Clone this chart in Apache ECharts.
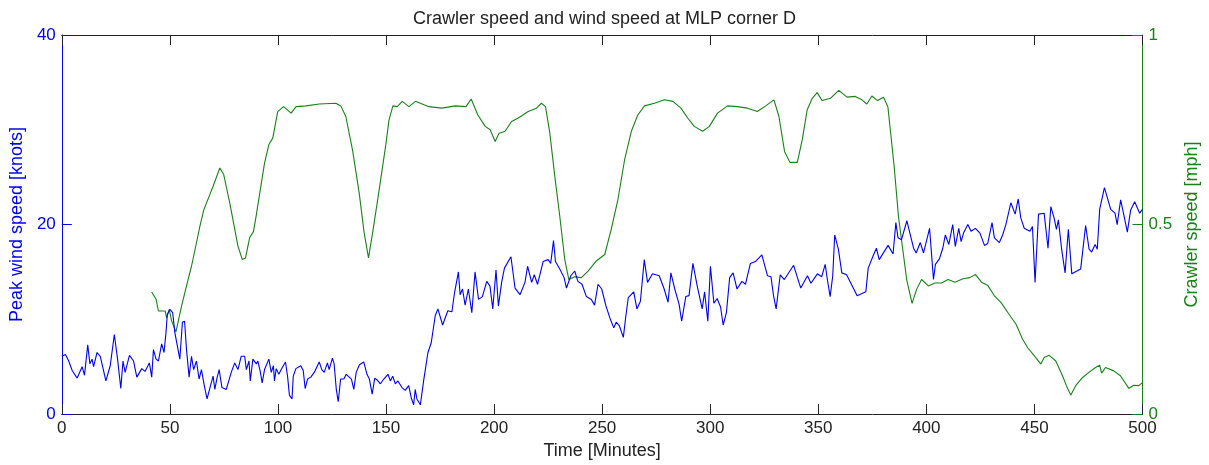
<!DOCTYPE html>
<html>
<head>
<meta charset="utf-8">
<script src="https://cdn.jsdelivr.net/npm/echarts@6/dist/echarts.min.js"></script>
<style>
html,body{margin:0;padding:0;background:#fff;}
#chart{width:1209px;height:465px;}
</style>
</head>
<body>
<div id="chart"></div>
<script>
// ---- Data ----
var windTime = [0,1.7,3.2,4.8,7.1,9.4,10.5,12,13,14,14.7,16.3,17.8,20.4,22.4,24.3,25.8,27.3,28.3,29.3,31.3,33.2,34.7,37,38.5,40.5,41.6,42.4,43.6,44.7,46.2,47.3,48.2,48.8,50,51.3,52.3,54.6,55.8,56.8,57.7,58.9,60,61,62.3,63.5,64.6,66.1,67.2,68.8,70,70.8,71.8,72.8,74.1,76.1,78.4,80,81.5,83,
84.6,85.4,86.6,87.2,88.4,90,90.7,91.8,92.7,93.8,95.8,96.9,97.9,98.4,99.2,100.4,101.5,102.2,103.5,104.5,105.3,106.5,107.1,108.3,110.6,111.7,112.6,113.7,115.2,116.8,119.1,120.3,121.4,122.9,123.7,125.2,126,127,127.9,129,130.5,131.6,132.5,134,135.1,136.2,137.7,139.7,141.2,142.3,143.6,144.8,145.9,147.4,149,150.9,152,153.1,154.3,155.5,157.4,158.9,160.5,161.7,162.8,163.5,164.3,165.9,
167.4,169.4,170.9,172.8,174,176.2,178.6,180.5,181.7,183.5,184.3,185.4,186.6,188.1,189.7,191.2,192.8,194.6,196.6,198.1,199.4,200.9,202,203.5,204.8,207.8,209.7,212,214.3,215.5,217.4,218.6,220.1,222.7,225,226.2,227.5,228.4,230.4,232.4,233.5,235.5,237.3,238.8,240.7,242.7,245,246.5,248.1,
249.8,251.8,253.8,255.4,256.5,258,259.8,261,262.1,264.6,266.1,267.7,269.5,271,273.3,276.4,278.7,280.5,281.8,283.6,285.6,286.8,288.7,290.2,292,294,296.3,297.4,298.9,300.1,301.7,303.2,304.8,306,307.5,309,310.6,312.4,314.7,316.3,318.6,320.9,323.9,326.5,328.1,329.3,330.5,
332.4,334.3,338.6,341.9,345,346.6,349.6,351.6,353.2,354.2,355.5,356.7,357.6,359.3,360.9,363.1,368,372,373.1,375.4,376.9,378.2,382.3,384.6,385.9,386.9,388.5,391,394.1,395.3,397.2,398.7,401.5,403.3,404.2,406.1,407.6,408.8,410.4,412.2,413.4,
415,416.1,417.2,419.2,420.7,422.7,424.8,426.9,428.4,430.4,431.5,433.8,435.3,436.8,437.6,439.1,441.1,442.5,443.7,445.3,447.9,449.1,450.3,451.9,454.5,456.3,457.6,459.1,460.2,461.1,462.6,464.2,465.7,467.3,471.4,473.7,475.3,476.5,478.1,479.1,480.2,482.4,485.3,487.3,488.3,489.9,491.4,493,494.5,496.4,498.7,500];
var windSpeed = [6.1,6.3,5.6,4.6,3.8,5.0,4.1,7.3,5.3,5.8,5.0,6.5,6.1,3.5,5.1,8.4,5.8,2.7,5.6,4.4,6.2,5.6,3.9,4.8,4.5,5.4,3.9,6.8,5.8,5.6,7.4,6.5,8.6,10.5,11.05,10.7,8.6,5.8,9.7,9.8,6.8,3.9,6.1,4.7,5.6,3.7,4.7,2.8,1.6,3.0,4.0,2.6,3.8,4.7,2.8,2.6,4.4,5.4,4.7,6.1,
6.1,4.7,5.6,3.5,5.8,5.3,5.6,4.5,3.3,4.7,5.8,4.4,5.1,3.5,4.8,4.2,4.7,4.6,5.5,3.9,2.0,1.6,4.0,4.8,5.1,4.6,2.7,3.7,3.9,4.4,5.5,4.7,4.4,5.4,4.7,5.9,5.3,2.6,1.3,3.7,3.7,4.2,4.4,3.7,2.6,4.4,5.2,5.5,4.2,3.7,2.1,3.8,3.6,3.2,3.7,4.2,3.5,4.0,3.2,3.5,2.8,2.5,3.0,1.7,0.98,2.6,1.6,0.98,
3.5,6.5,7.5,10.4,11.1,9.4,10.9,10.8,12.8,15.0,12.6,13.2,11.5,13.2,10.7,15.0,12.1,12.4,14.0,13.5,11.1,15.2,11.4,13.9,15.4,16.6,13.3,12.6,13.9,15.6,13.9,14.7,13.7,16.1,16.3,15.9,18.3,16.1,15.3,14.4,13.3,14.6,15.1,14.0,13.7,12.4,12.1,11.5,13.7,
13.2,11.4,10.0,9.1,9.7,9.3,8.1,10.4,12.3,12.9,11.1,11.9,16.3,13.9,14.8,14.6,13.2,11.8,14.9,13.2,11.6,9.8,12.4,12.5,15.9,13.5,11.1,12.9,9.8,15.6,11.7,12.2,11.3,9.4,10.7,14.4,14.9,13.2,14.0,13.7,15.9,16.1,16.8,14.6,14.5,12.5,11.1,
14.7,14.2,15.7,13.3,14.6,13.8,14.8,14.5,15.8,14.2,12.4,14.6,18.9,17.4,14.9,14.7,12.5,12.9,15.4,16.7,17.5,16.3,17.8,16.9,20.2,18.6,18.4,20.4,17.5,17.0,18.1,17.0,19.6,14.2,15.8,16.4,17.5,18.9,17.9,20.0,17.7,
19.6,18.2,19.1,20.0,19.3,19.6,19.1,17.8,18.0,20.2,18.6,18.1,18.9,20.0,19.8,22.3,21.1,22.7,20.7,19.6,19.3,19.8,13.9,21.1,21.2,17.5,21.9,20.7,19.5,20.5,17.4,14.9,19.5,14.8,15.3,19.9,17.4,17.1,17.9,17.4,21.6,23.9,21.6,21.2,20.0,22.6,21.0,19.2,21.5,22.4,21.2,21.6];

var crawlerTime = [41.6,43.6,44.7,47.8,48.5,49.7,50.8,52.8,55.4,57.7,60,62.3,63.9,65.7,68.2,70,73.1,74.9,77.7,81.5,83.5,85,86.9,88.7,89.9,93.8,95.8,97.6,99.9,102.6,106.1,108.4,113,119.1,126.8,129.1,131.4,134.5,137.6,139.9,141.9,143.8,146.8,149.9,151.4,153.2,155.2,157.5,160.6,163.7,169.8,175.9,182,187,189.4,192.5,195.9,198.2,200.5,202.3,205.1,208.1,211.2,215.8,219.6,221.9,223.8,225.8,228.1,230.4,232.7,234.6,237.3,240.4,243.5,247.3,251.2,254.2,257.3,260.4,263.5,266.5,269.6,274.2,278.8,282.7,286.5,289.6,292.6,296.5,299.6,303.4,308,312.6,317.2,321.8,325.7,329.5,331.8,334.4,336.9,340.3,342.6,344.9,347.2,349.5,351.8,355.6,359.5,363.3,367.1,370.2,372.5,374.8,377.4,380.2,382.2,383.5,385.1,387.1,389.1,390.9,393.4,395.5,397.8,400.9,404,407,410.1,413.2,417,420.1,422.8,425.5,428.5,431.6,434.6,437.7,441.5,444.6,446.9,449.9,453,454.5,456.8,459.9,463,464.8,466.8,469.1,472.2,475.2,478.3,480.2,481.1,482.9,486.7,489.8,493.7,496,498.3,500];
var crawlerSpeed = [0.322,0.303,0.272,0.272,0.254,0.276,0.246,0.217,0.285,0.338,0.39,0.452,0.496,0.539,0.575,0.601,0.649,0.632,0.557,0.443,0.408,0.412,0.465,0.482,0.522,0.662,0.711,0.728,0.798,0.811,0.794,0.811,0.813,0.818,0.82,0.813,0.785,0.697,0.583,0.478,0.412,0.478,0.59,0.71,0.776,0.813,0.811,0.825,0.811,0.825,0.811,0.807,0.813,0.811,0.831,0.789,0.759,0.75,0.719,0.741,0.746,0.772,0.781,0.798,0.807,0.82,0.811,0.741,0.627,0.522,0.408,0.355,0.362,0.36,0.377,0.404,0.421,0.487,0.566,0.671,0.746,0.789,0.813,0.82,0.829,0.825,0.807,0.781,0.759,0.746,0.759,0.794,0.813,0.811,0.807,0.798,0.813,0.829,0.785,0.693,0.664,0.664,0.724,0.803,0.833,0.848,0.827,0.833,0.854,0.836,0.838,0.829,0.818,0.839,0.827,0.836,0.811,0.741,0.654,0.522,0.434,0.355,0.292,0.329,0.355,0.338,0.346,0.346,0.355,0.348,0.357,0.36,0.368,0.348,0.339,0.311,0.294,0.268,0.237,0.197,0.175,0.154,0.132,0.149,0.155,0.14,0.101,0.075,0.05,0.075,0.096,0.11,0.123,0.129,0.108,0.123,0.114,0.101,0.068,0.076,0.075,0.083];

var xTicks = [0,50,100,150,200,250,300,350,400,450,500];
var windTicks = [0,20,40];
var crawlerTicks = [0,0.5,1];

var titleText = 'Crawler speed and wind speed at MLP corner D';
var xName = 'Time [Minutes]';
var windName = 'Peak wind speed [knots]';
var crawlerName = 'Crawler speed [mph]';

// ---- Build series ----
function pairs(xs, ys){ var out=[]; for(var i=0;i<xs.length;i++){ out.push([xs[i], ys[i]]); } return out; }

var BLUE = '#0000ee';
var GREEN = '#1a801a';
var FONT = '"Liberation Sans", Arial, sans-serif';

var chart = echarts.init(document.getElementById('chart'), null, {renderer:'canvas'});
chart.setOption({
  animation:false,
  backgroundColor:'#ffffff',
  title:{text:titleText, left:'center', top:5,
    textStyle:{fontFamily:FONT, fontSize:18, fontWeight:'normal', color:'#222'}},
  grid:{left:61, right:62, top:35, height:380, containLabel:false},
  xAxis:[{
    type:'value', min:xTicks[0], max:xTicks[xTicks.length-1], interval:xTicks[1]-xTicks[0],
    position:'bottom',
    name:xName, nameLocation:'middle', nameGap:27,
    nameTextStyle:{fontFamily:FONT, fontSize:18, color:'#222'},
    axisLine:{show:true, onZero:false, lineStyle:{color:'#222', width:1}},
    axisTick:{show:true, inside:true, length:10, lineStyle:{color:'#222'}},
    axisLabel:{fontFamily:FONT, fontSize:17, color:'#222', margin:6},
    splitLine:{show:false}
  },{
    type:'value', min:xTicks[0], max:xTicks[xTicks.length-1], interval:xTicks[1]-xTicks[0],
    position:'top',
    axisLine:{show:true, onZero:false, lineStyle:{color:'#222', width:1}},
    axisTick:{show:true, inside:true, length:10, lineStyle:{color:'#222'}},
    axisLabel:{show:false},
    splitLine:{show:false}
  }],
  yAxis:[{
    type:'value', min:windTicks[0], max:windTicks[windTicks.length-1], interval:windTicks[1]-windTicks[0],
    position:'left',
    name:windName, nameLocation:'middle', nameGap:35, nameRotate:90,
    nameTextStyle:{fontFamily:FONT, fontSize:18, color:BLUE},
    axisLine:{show:true, onZero:false, lineStyle:{color:BLUE, width:1}},
    axisTick:{show:true, inside:true, length:10, lineStyle:{color:BLUE}},
    axisLabel:{fontFamily:FONT, fontSize:17, color:BLUE, margin:6},
    splitLine:{show:false}
  },{
    type:'value', min:crawlerTicks[0], max:crawlerTicks[crawlerTicks.length-1], interval:crawlerTicks[1]-crawlerTicks[0],
    position:'right',
    name:crawlerName, nameLocation:'middle', nameGap:37, nameRotate:90,
    nameTextStyle:{fontFamily:FONT, fontSize:18, color:GREEN},
    axisLine:{show:true, onZero:false, lineStyle:{color:GREEN, width:1}},
    axisTick:{show:true, inside:true, length:10, lineStyle:{color:GREEN}},
    axisLabel:{fontFamily:FONT, fontSize:17, color:GREEN, margin:6},
    splitLine:{show:false}
  }],
  series:[{
    name:windName, type:'line', xAxisIndex:0, yAxisIndex:0,
    data:pairs(windTime, windSpeed), showSymbol:false, symbol:'none',
    lineStyle:{color:BLUE, width:1.1}, itemStyle:{color:BLUE}, z:3
  },{
    name:crawlerName, type:'line', xAxisIndex:0, yAxisIndex:1,
    data:pairs(crawlerTime, crawlerSpeed), showSymbol:false, symbol:'none',
    lineStyle:{color:GREEN, width:1.1}, itemStyle:{color:GREEN}, z:2
  }]
});
</script>
</body>
</html>
